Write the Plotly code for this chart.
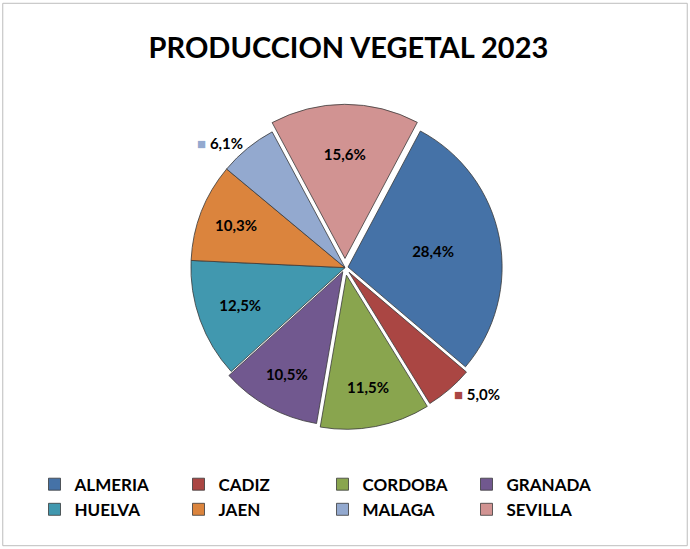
import plotly.graph_objects as go

provinces = ["ALMERIA", "CADIZ", "CORDOBA", "GRANADA", "HUELVA", "JAEN", "MALAGA", "SEVILLA"]
shares = [28.4, 5.0, 11.5, 10.5, 12.5, 10.3, 6.1, 15.6]
share_labels = ["28,4%", "5,0%", "11,5%", "10,5%", "12,5%", "10,3%", "6,1%", "15,6%"]
colors = ["#4572A7", "#AA4643", "#89A54E", "#71588F", "#4198AF", "#DB843D", "#93A9CF", "#D19392"]
outside = ["MALAGA", "CADIZ"]
pulls = [0.02, 0.04, 0.05, 0.03, 0.0, 0.0, 0.0, 0.06]

texts = []
positions = []
for p, lab, c in zip(provinces, share_labels, colors):
    if p in outside:
        texts.append(f"<span style='color:{c}'>■</span> <b>{lab}</b>")
        positions.append("outside")
    else:
        texts.append(f"<b>{lab}</b>")
        positions.append("inside")

fig = go.Figure(go.Pie(
    labels=provinces,
    values=shares,
    text=texts,
    texttemplate="%{text}",
    textposition=positions,
    insidetextorientation="horizontal",
    textfont=dict(family="Lato, Arial", size=15, color="black"),
    marker=dict(colors=colors, line=dict(color="#3a3a3a", width=0.8)),
    sort=False,
    direction="clockwise",
    rotation=28,
    pull=pulls,
    hole=0,
    automargin=False,
    domain=dict(x=[0.0, 1.0], y=[0.215, 0.81]),
    showlegend=True,
))

fig.update_layout(
    width=690, height=549,
    margin=dict(l=0, r=0, t=0, b=0),
    paper_bgcolor="white",
    title=dict(text="<b>PRODUCCION VEGETAL 2023</b>", x=0.505, xanchor="center",
               y=0.912, yanchor="middle",
               font=dict(family="Lato, Arial", size=29, color="black")),
    legend=dict(orientation="h", x=0.05, xanchor="left", y=0.15, yanchor="top",
                entrywidth=99, entrywidthmode="pixels",
                font=dict(family="Lato, Arial", size=17, color="black", weight="bold"),
                traceorder="normal", itemclick=False),
    uniformtext=dict(minsize=15, mode="show"),
    shapes=[dict(type="rect", xref="paper", yref="paper", x0=0.004, x1=0.996, y0=0.006, y1=0.994,
                 line=dict(color="#bdbdbd", width=1))],
)

fig.write_html("out.html", config={"displayModeBar": False},
               post_script="document.body.style.margin='0';")
